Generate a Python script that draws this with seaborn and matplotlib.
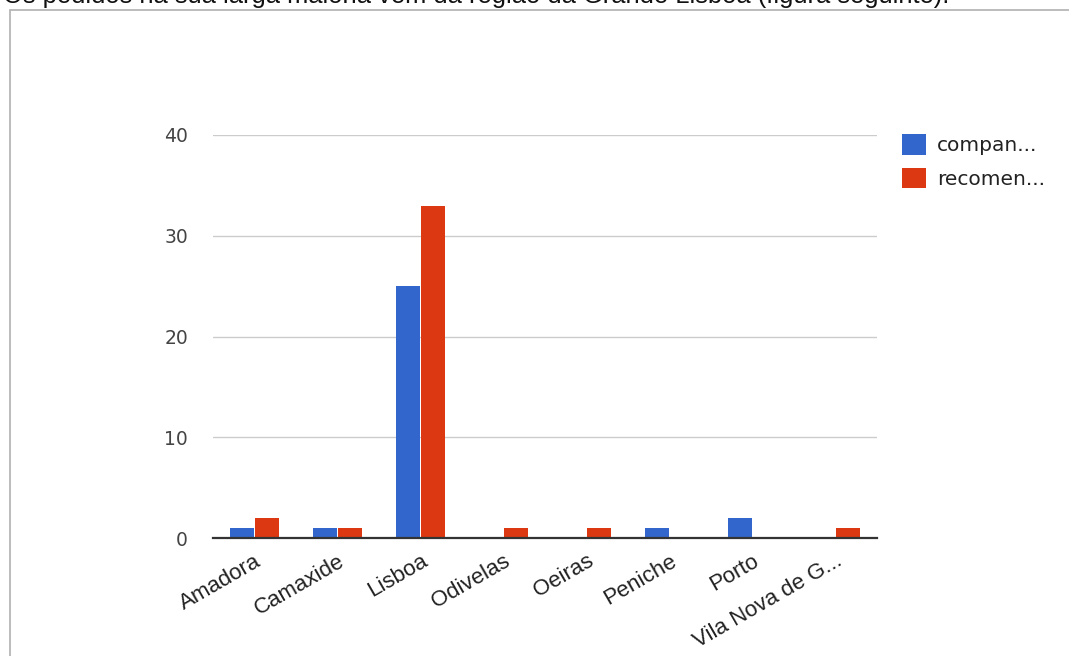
import matplotlib
matplotlib.use("Agg")
import matplotlib.pyplot as plt
import matplotlib.patches as mpatches
import seaborn as sns
import pandas as pd

# ---- data ----
cities = ["Amadora", "Camaxide", "Lisboa", "Odivelas", "Oeiras", "Peniche", "Porto", "Vila Nova de G..."]
series_names = ["compan...", "recomen..."]
companhias = [1, 1, 25, 0, 0, 1, 2, 0]
recomendacoes = [2, 1, 33, 1, 1, 0, 0, 1]
y_ticks = [0, 10, 20, 30, 40]
header_text = "Os pedidos na sua larga maioria vêm da região da Grande Lisboa (figura seguinte)."

colors = ["#3366CC", "#DC3912"]

df = pd.DataFrame({
    "cidade": cities * 2,
    "serie": [series_names[0]] * len(cities) + [series_names[1]] * len(cities),
    "valor": companhias + recomendacoes,
})

sns.set_theme(style="white")
plt.rcParams['font.family'] = ['DejaVu Sans']

W, H = 1069, 656
fig = plt.figure(figsize=(W / 100, H / 100), dpi=100)
fig.patch.set_facecolor("white")

# frame box and cut header text
fig.patches.append(mpatches.Rectangle((10 / W, -0.05), 1.1, 1 - 10 / H + 0.05,
                                      transform=fig.transFigure, fill=False,
                                      edgecolor="#b0b0b0", linewidth=1.2))
fig.text(3 / W, 1 - 3 / H, header_text, ha="left", va="baseline",
         fontsize=18.4, family="Liberation Sans", color="#111111")

ax = fig.add_axes([213 / W, (H - 538) / H, (877 - 213) / W, (538 - 135) / H])
sns.barplot(data=df, x="cidade", y="valor", hue="serie", palette=colors,
            saturation=1, width=0.6, gap=0.06, linewidth=0, ax=ax,
            order=cities, hue_order=series_names)

ax.set_ylim(0, 40)
ax.set_yticks(y_ticks)
ax.set_xlim(-0.5, len(cities) - 0.5)
ax.yaxis.grid(True, color="#cccccc", linewidth=1)
ax.set_axisbelow(True)
for s in ["left", "right", "top"]:
    ax.spines[s].set_visible(False)
ax.spines["bottom"].set_color("#333333")
ax.spines["bottom"].set_linewidth(1.6)
ax.set_xlabel("")
ax.set_ylabel("")
ax.tick_params(axis="y", length=0, pad=18, labelsize=13.5, labelcolor="#444444")
ax.tick_params(axis="x", length=0, pad=9)
ax.set_xticks(range(len(cities)))
ax.set_xticklabels(cities, rotation=30, ha="right", va="top",
                   rotation_mode="anchor", family="Liberation Sans",
                   fontsize=16, color="#222222")

sns.move_legend(ax, loc="upper left", bbox_to_anchor=(902 / W, 1 - 134 / H),
                bbox_transform=fig.transFigure, frameon=False, title=None,
                fontsize=14.5, handlelength=1.2, handleheight=1.2,
                handletextpad=0.55, labelspacing=0.62, borderpad=0,
                borderaxespad=0)
for t in ax.get_legend().get_texts():
    t.set_color("#222222")

fig.savefig("out.png", dpi=100, facecolor="white")
